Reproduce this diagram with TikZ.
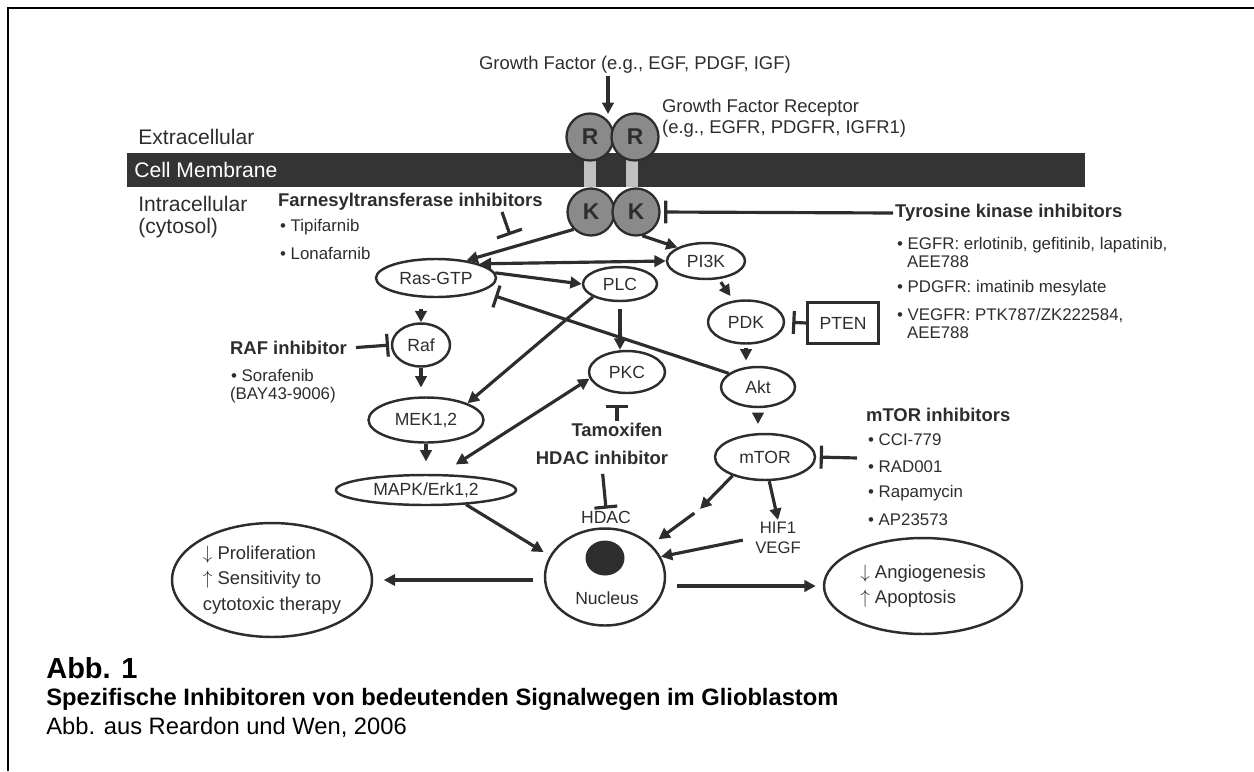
\documentclass[tikz,border=0pt]{standalone}
\usepackage{fontspec}
\setmainfont{Liberation Sans}
\usetikzlibrary{shapes.geometric,arrows.meta}
\definecolor{ink}{RGB}{45,45,45}
\definecolor{mem_grey}{RGB}{52,52,52}
\definecolor{rec_grey}{RGB}{138,138,138}
\definecolor{stalk_grey}{RGB}{192,192,192}
\tikzset{
  mol/.style={ellipse, draw=ink, line width=1.4pt, inner sep=0pt, text=ink, font=\fontsize{10}{12}\selectfont},
  sub/.style={circle, draw=ink, fill=rec_grey, line width=1.3pt, inner sep=0pt, minimum size=0.94cm, text=ink, font=\bfseries\fontsize{13}{15}\selectfont},
  act/.style={draw=ink, line width=1.8pt, -{Triangle[length=6.5pt,width=6.5pt]}},
  act2/.style={draw=ink, line width=1.8pt, {Triangle[length=6.5pt,width=6.5pt]}-{Triangle[length=6.5pt,width=6.5pt]}},
  inh/.style={draw=ink, line width=1.8pt, -{Bar[width=13pt]}},
  drug/.style={text=ink, inner sep=1pt, font=\bfseries\fontsize{10.5}{12}\selectfont},
  item/.style={text=ink, inner sep=1pt, anchor=west, font=\fontsize{9.6}{11}\selectfont},
  lab/.style={text=ink, inner sep=1pt, font=\fontsize{10}{12}\selectfont},
  region/.style={text=ink, inner sep=0pt, anchor=west, font=\fontsize{12}{14}\selectfont},
}
\begin{document}
\begin{tikzpicture}[x=0.02cm, y=-0.02cm]
\useasboundingbox (0,0) rectangle (1254,771);
\draw[line width=1.5pt] (8,771) -- (8,8) -- (1254,8);

% membrane and receptor
\fill[mem_grey] (127,153) rectangle (1085,187);
\fill[stalk_grey] (584,153) rectangle (596,187);
\fill[stalk_grey] (626,153) rectangle (638,187);
\node[region, text=white] (memtext) at (134,170) {Cell Membrane};
\node[region] (extra) at (138,137) {Extracellular};
\node[region, align=left, font=\fontsize{12}{12.5}\selectfont] (intra) at (138,217) {Intracellular\\(cytosol)};

\node[sub] (r1) at (590,137) {R};
\node[sub] (r2) at (635,137) {R};
\node[sub] (k1) at (591,212) {K};
\node[sub] (k2) at (636,212) {K};

\node[lab, anchor=west, font=\fontsize{10.5}{12}\selectfont] (gf) at (477,65) {Growth Factor (e.g., EGF, PDGF, IGF)};
\coordinate (gfin) at (608,114);
\draw[act] (gf.south -| gfin) -- (gfin);
\node[lab, anchor=west, align=left, font=\fontsize{10.5}{12}\selectfont] (gfr) at (660,118) {Growth Factor Receptor\\(e.g., EGFR, PDGFR, IGFR1)};

% signalling molecules
\node[mol, minimum width=2.4cm, minimum height=0.76cm] (ras) at (436,278) {Ras-GTP};
\node[mol, minimum width=1.56cm, minimum height=0.72cm] (pi3k) at (706,261) {PI3K};
\node[mol, minimum width=1.48cm, minimum height=0.68cm] (plc) at (620,284) {PLC};
\node[mol, minimum width=1.16cm, minimum height=0.86cm] (raf) at (421,345) {Raf};
\node[mol, minimum width=2.3cm, minimum height=0.9cm] (mek) at (426,420) {MEK1,2};
\node[mol, minimum width=3.6cm, minimum height=0.6cm] (mapk) at (426,490) {MAPK/Erk1,2};
\node[mol, minimum width=1.52cm, minimum height=0.84cm] (pkc) at (627,372) {PKC};
\node[mol, minimum width=1.52cm, minimum height=0.86cm] (pdk) at (746,322) {PDK};
\node[draw=ink, line width=1.4pt, minimum width=1.42cm, minimum height=0.82cm, lab] (pten) at (843,323) {PTEN};
\node[mol, minimum width=1.48cm, minimum height=0.8cm] (akt) at (758,387) {Akt};
\node[mol, minimum width=2.0cm, minimum height=0.92cm] (mtor) at (765,457) {mTOR};
\node[mol, minimum width=2.4cm, minimum height=1.94cm] (nucleus) at (605,577) {};
\node[ellipse, fill=ink, inner sep=0pt, minimum width=0.78cm, minimum height=0.7cm] (blob) at (605,558) {};
\node[lab] (nuclab) at (607,598) {Nucleus};
\node[lab] (hdac) at (606,517) {HDAC};
\node[lab, align=center, font=\fontsize{9.5}{11.5}\selectfont] (hif) at (778,538) {HIF1\\VEGF};

\node[mol, minimum width=4.0cm, minimum height=2.28cm, align=left, font=\fontsize{10.5}{14.5}\selectfont] (prolif) at (272,580) {$\downarrow$ Proliferation\\$\uparrow$ Sensitivity to\\cytotoxic therapy};
\node[mol, minimum width=3.96cm, minimum height=1.92cm, align=left, font=\fontsize{10.5}{14.5}\selectfont] (angio) at (923,586) {$\downarrow$ Angiogenesis\\$\uparrow$ Apoptosis};

% inhibitors
\node[drug, anchor=west] (fti) at (276,202) {Farnesyltransferase inhibitors};
\node[item] (tipi) at (278,227) {• Tipifarnib};
\node[item] (lona) at (278,253) {• Lonafarnib};
\node[drug, anchor=west] (tki) at (893,213) {Tyrosine kinase inhibitors};
\node[item] (egfr) at (895,245) {• EGFR: erlotinib, gefitinib, lapatinib,};
\node[item] (aee1) at (905,262) {AEE788};
\node[item] (pdgfr) at (895,288) {• PDGFR: imatinib mesylate};
\node[item] (vegfr) at (895,315) {• VEGFR: PTK787/ZK222584,};
\node[item] (aee2) at (905,333) {AEE788};
\node[drug, anchor=west] (rafi) at (228,348) {RAF inhibitor};
\node[item] (sora) at (229,375) {• Sorafenib};
\node[item] (bay) at (228,395) {(BAY43-9006)};
\node[drug] (tam) at (617,430) {Tamoxifen};
\node[drug] (hdaci) at (602,458) {HDAC inhibitor};
\node[drug, anchor=west] (mtori) at (864,415) {mTOR inhibitors};
\node[item] (cci) at (866,440) {• CCI-779};
\node[item] (rad) at (866,467) {• RAD001};
\node[item] (rapa) at (866,493) {• Rapamycin};
\node[item] (ap) at (866,520) {• AP23573};

\coordinate (ftibar) at (510,235);
\coordinate (ftitop) at (502,212);
\coordinate (rasbar) at (495,296);
\coordinate (mtorin) at (857,458);
\coordinate (mtorgap) at (700,509);

% connectors
\draw[act] (k1.-135) -- (ras.30);
\draw[act] (k2.-75) -- (pi3k.north west);
\draw[inh, -{Bar[width=15pt]}] (ftitop) -- (ftibar);
\draw[inh, shorten >=2pt] (tki.west) -- (k2.east);
\draw[act2] (ras.18) -- (pi3k.west);
\draw[act] (ras.5) -- (plc.west);
\draw[inh] (akt.155) -- (rasbar);
\draw[act, shorten <=6pt] (raf.north |- ras.south) -- (raf.north);
\draw[act, shorten >=5pt] (raf.south) -- (raf.south |- mek.north);
\draw[act, shorten >=7pt] (mek.south) -- (mek.south |- mapk.north);
\draw[inh, shorten <=4pt, shorten >=1pt] (rafi.east) -- (raf.west);
\draw[act] (plc.south west) -- (mek.north east);
\draw[act, shorten <=4pt] (plc.south) -- (plc.south |- pkc.north);
\draw[act2, shorten <=10pt] (mapk.47) -- (pkc.190);
\draw[inh, shorten >=6pt] (tam.north) -- (tam.north |- pkc.south);
\draw[inh, shorten <=4pt] (hdaci.south) -- (hdac.north);
\draw[act, shorten >=4pt] (mapk.-20) -- (nucleus.159);
\draw[act, shorten <=2pt, shorten >=3pt] (pi3k.-55) -- (pdk.120);
\draw[inh, shorten >=4pt] (pten.west) -- (pdk.east);
\draw[act, shorten <=2pt, shorten >=3pt] (pdk.south) -- (pdk.south |- akt.north);
\draw[act, shorten <=3pt, shorten >=5pt] (akt.south) -- (akt.south |- mtor.north);
\draw[inh, shorten >=2pt] (mtorin) -- (mtor.east);
\draw[act] (mtor.-150) -- (mtorgap);
\draw[act, shorten <=4pt, shorten >=5pt] (mtorgap) -- (nucleus.35);
\draw[act] (mtor.-80) -- (hif.north);
\draw[act, shorten <=6pt] (hif.west) -- (nucleus.20);
\draw[act, shorten <=6pt, shorten >=6pt] (prolif.east -| nucleus.west) -- (prolif.east);
\draw[act, shorten <=6pt, shorten >=4pt] (angio.west -| nucleus.east) -- (angio.west);

% caption
\node[anchor=west, inner sep=0pt, font=\bfseries\fontsize{16.5}{19}\selectfont] (abb) at (46,668) {Abb. 1};
\node[anchor=west, inner sep=0pt, font=\bfseries\fontsize{13.5}{16}\selectfont] (title) at (46,699) {Spezifische Inhibitoren von bedeutenden Signalwegen im Glioblastom};
\node[anchor=west, inner sep=0pt, font=\fontsize{13.5}{16}\selectfont] (source) at (46,727) {Abb. aus Reardon und Wen, 2006};
\end{tikzpicture}
\end{document}
